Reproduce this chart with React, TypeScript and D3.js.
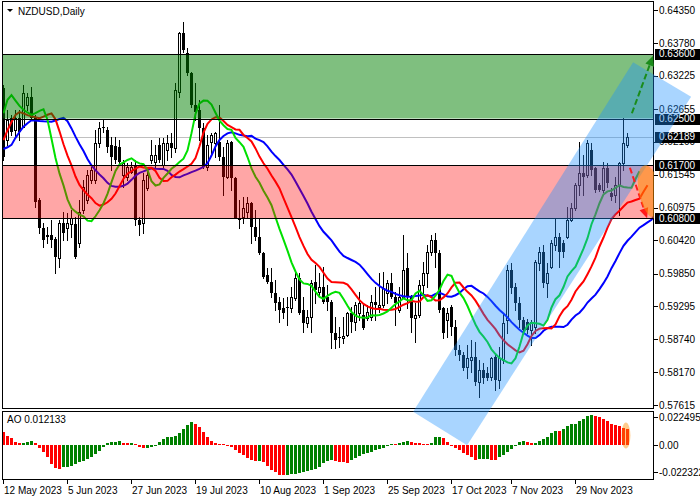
import React from "react";
import * as d3 from "d3";

// ---------- data ----------
const openPrices = [0.6302,0.6213,0.6251,0.6230,0.6251,0.6236,0.6273,0.6287,0.6251,0.6111,
0.6063,0.6051,0.6051,0.6044,0.6012,0.6072,0.6063,0.6070,0.6070,0.6038,
0.6094,0.6111,0.6145,0.6145,0.6208,0.6234,0.6230,0.6205,0.6203,0.6201,
0.6154,0.6150,0.6159,0.6171,0.6077,0.6072,0.6132,0.6179,0.6176,0.6205,
0.6171,0.6196,0.6208,0.6200,0.6295,0.6396,0.6362,0.6328,0.6273,0.6265,
0.6234,0.6167,0.6210,0.6208,0.6210,0.6184,0.6150,0.6210,0.6149,0.6080,
0.6082,0.6091,0.6106,0.6065,0.6048,0.6021,0.5983,0.5971,0.5953,0.5937,
0.5927,0.5927,0.5927,0.5944,0.5978,0.5924,0.5901,0.5912,0.5971,0.5954,
0.5963,0.5946,0.5937,0.5884,0.5877,0.5876,0.5881,0.5918,0.5903,0.5918,
0.5915,0.5910,0.5912,0.5937,0.5929,0.5932,0.5953,0.5970,0.5946,0.5924,
0.5946,0.5995,0.5946,0.5910,0.5915,0.5966,0.5987,0.6022,0.6043,0.6021,
0.5927,0.5906,0.5929,0.5894,0.5855,0.5847,0.5826,0.5838,0.5843,0.5801,
0.5821,0.5816,0.5809,0.5843,0.5804,0.5838,0.5906,0.5992,0.5963,0.5935,
0.5906,0.5903,0.5889,0.5894,0.6004,0.6022,0.5970,0.5997,0.6034,0.6048,
0.6038,0.6048,0.6077,0.6097,0.6137,0.6157,0.6154,0.6196,0.6166,0.6137,
0.6128,0.6166,0.6123,0.6120,0.6137,0.6174,0.6205];

const highPrices = [0.6307,0.6265,0.6256,0.6265,0.6265,0.6307,0.6293,0.6304,0.6256,0.6115,
0.6072,0.6065,0.6077,0.6048,0.6077,0.6091,0.6089,0.6094,0.6082,0.6111,
0.6145,0.6162,0.6167,0.6230,0.6244,0.6247,0.6236,0.6218,0.6218,0.6213,
0.6179,0.6174,0.6176,0.6179,0.6082,0.6157,0.6162,0.6213,0.6205,0.6216,
0.6216,0.6222,0.6225,0.6311,0.6398,0.6415,0.6370,0.6330,0.6311,0.6282,
0.6242,0.6222,0.6225,0.6227,0.6273,0.6201,0.6213,0.6212,0.6150,0.6111,
0.6116,0.6116,0.6108,0.6094,0.6080,0.6022,0.5995,0.5995,0.5975,0.5946,
0.5944,0.5946,0.5963,0.5987,0.5987,0.5946,0.5924,0.5975,0.6000,0.5987,
0.5997,0.5966,0.5941,0.5912,0.5894,0.5912,0.5920,0.5929,0.5937,0.5954,
0.5932,0.5932,0.5949,0.5963,0.5987,0.5988,0.5975,0.5987,0.5954,0.5963,
0.6051,0.6021,0.5949,0.5935,0.5975,0.6005,0.6034,0.6051,0.6055,0.6026,
0.5929,0.5927,0.5932,0.5906,0.5864,0.5852,0.5864,0.5872,0.5869,0.5838,
0.5833,0.5826,0.5843,0.5850,0.5860,0.5918,0.6000,0.6004,0.5970,0.5946,
0.5912,0.5908,0.5906,0.6009,0.6031,0.6034,0.6004,0.6043,0.6080,0.6055,
0.6043,0.6099,0.6106,0.6140,0.6210,0.6188,0.6213,0.6208,0.6167,0.6140,
0.6176,0.6174,0.6132,0.6150,0.6176,0.6251,0.6225];

const lowPrices = [0.6179,0.6205,0.6222,0.6218,0.6213,0.6236,0.6265,0.6247,0.6099,0.6055,
0.6031,0.6038,0.6031,0.5987,0.5997,0.6043,0.6043,0.6048,0.6012,0.6031,
0.6089,0.6106,0.6140,0.6140,0.6201,0.6227,0.6193,0.6162,0.6174,0.6174,
0.6133,0.6145,0.6157,0.6068,0.6051,0.6055,0.6128,0.6174,0.6167,0.6176,
0.6167,0.6179,0.6184,0.6193,0.6287,0.6363,0.6324,0.6270,0.6247,0.6213,
0.6166,0.6162,0.6191,0.6184,0.6179,0.6120,0.6149,0.6128,0.6080,0.6063,
0.6072,0.6082,0.6038,0.6043,0.6019,0.5978,0.5970,0.5946,0.5924,0.5903,
0.5910,0.5898,0.5920,0.5941,0.5916,0.5886,0.5894,0.5886,0.5935,0.5949,
0.5935,0.5924,0.5859,0.5859,0.5860,0.5867,0.5879,0.5886,0.5889,0.5906,
0.5891,0.5906,0.5906,0.5906,0.5920,0.5929,0.5935,0.5944,0.5898,0.5920,
0.5944,0.5927,0.5886,0.5869,0.5912,0.5953,0.5963,0.6017,0.5997,0.5920,
0.5876,0.5877,0.5881,0.5847,0.5838,0.5821,0.5808,0.5818,0.5796,0.5775,
0.5799,0.5804,0.5804,0.5787,0.5791,0.5833,0.5884,0.5953,0.5924,0.5894,
0.5884,0.5884,0.5864,0.5884,0.5992,0.5963,0.5946,0.5995,0.6026,0.5997,
0.6014,0.6046,0.6075,0.6094,0.6120,0.6120,0.6150,0.6154,0.6125,0.6126,
0.6125,0.6133,0.6111,0.6108,0.6085,0.6162,0.6201];

const closePrices = [0.6184,0.6247,0.6227,0.6251,0.6227,0.6293,0.6287,0.6251,0.6108,0.6063,
0.6043,0.6048,0.6043,0.6014,0.6072,0.6055,0.6072,0.6080,0.6014,0.6091,
0.6133,0.6154,0.6162,0.6208,0.6234,0.6236,0.6201,0.6184,0.6179,0.6176,
0.6174,0.6167,0.6167,0.6077,0.6068,0.6145,0.6154,0.6188,0.6188,0.6179,
0.6208,0.6208,0.6200,0.6299,0.6396,0.6367,0.6328,0.6273,0.6261,0.6234,
0.6167,0.6205,0.6222,0.6225,0.6184,0.6150,0.6208,0.6149,0.6080,0.6077,
0.6097,0.6106,0.6065,0.6048,0.6021,0.5980,0.5971,0.5953,0.5935,0.5924,
0.5918,0.5929,0.5946,0.5978,0.5918,0.5901,0.5912,0.5970,0.5958,0.5963,
0.5937,0.5937,0.5884,0.5872,0.5876,0.5879,0.5918,0.5903,0.5932,0.5935,
0.5893,0.5920,0.5937,0.5932,0.5932,0.5961,0.5970,0.5946,0.5935,0.5946,
0.5992,0.5946,0.5910,0.5915,0.5966,0.5987,0.6022,0.6043,0.6021,0.5924,
0.5884,0.5918,0.5894,0.5855,0.5847,0.5825,0.5842,0.5843,0.5801,0.5821,
0.5808,0.5808,0.5842,0.5804,0.5842,0.5901,0.5992,0.5961,0.5935,0.5906,
0.5889,0.5889,0.5903,0.6005,0.6022,0.5970,0.5987,0.6038,0.6048,0.6022,
0.6022,0.6077,0.6097,0.6137,0.6157,0.6150,0.6208,0.6162,0.6128,0.6128,
0.6166,0.6140,0.6116,0.6137,0.6174,0.6208,0.6219];

const aoValues = [0.00987,0.00690,0.00542,0.00245,0.00126,0.00141,0.00245,0.00319,0.00126,-0.00245,
-0.00542,-0.00913,-0.01432,-0.01684,-0.01781,-0.01655,-0.01610,-0.01536,-0.01410,-0.01284,
-0.01165,-0.01061,-0.00913,-0.00668,-0.00423,-0.00126,0.00171,0.00245,0.00252,0.00275,
0.00171,0.00126,0.00171,0.00111,-0.00126,-0.00245,-0.00223,-0.00148,-0.00052,0.00200,
0.00445,0.00594,0.00616,0.00668,0.00942,0.01239,0.01484,0.01729,0.01610,0.01358,
0.00987,0.00616,0.00319,0.00171,0.00074,0.00052,0.00022,-0.00126,-0.00371,-0.00594,
-0.00742,-0.00987,-0.01113,-0.01187,-0.01165,-0.01261,-0.01558,-0.01855,-0.02026,-0.02204,
-0.022322,-0.02220,-0.02190,-0.02152,-0.02078,-0.02003,-0.01929,-0.01855,-0.01781,-0.01632,
-0.01336,-0.01187,-0.01113,-0.01187,-0.01261,-0.01284,-0.01306,-0.01113,-0.00987,-0.00816,
-0.00690,-0.00616,-0.00497,-0.00371,-0.00319,-0.00245,-0.00052,0.00089,0.00074,0.00171,
0.00245,0.00297,0.00200,0.00171,0.00156,0.00074,0.00052,0.00171,0.00571,0.00616,
0.00497,0.00245,-0.00020,-0.00245,-0.00371,-0.00571,-0.00742,-0.00868,-0.01083,-0.01061,
-0.01046,-0.01039,-0.01076,-0.01090,-0.00913,-0.00742,-0.00542,-0.00297,0.00022,0.00245,
0.00319,0.00245,0.00126,0.00134,0.00319,0.00445,0.00616,0.00913,0.01061,0.01054,
0.01239,0.01410,0.01558,0.01610,0.01803,0.01981,0.02174,0.022495,0.02211,0.02100,
0.01981,0.01803,0.01610,0.01484,0.01432,0.01313,0.012133];

// Alligator values already plotted before the first visible source bar
const lipsHistory = [0.6259, 0.6282, 0.6290];
const teethHistory = [0.6213, 0.6230, 0.6244, 0.6256, 0.6261];
const jawHistory = [0.6198, 0.6201, 0.6205, 0.6217, 0.6227, 0.6236, 0.6242, 0.6247];

const priceTicks = [0.6435, 0.6378, 0.63225, 0.62655, 0.621, 0.61545, 0.60975, 0.6042, 0.5985, 0.59295, 0.5874, 0.5817, 0.57615];
const levelPrices = [0.636, 0.625, 0.617, 0.608];
const greenZone = [0.625, 0.636];
const redZone = [0.608, 0.617];
const currentPrice = 0.62189;
const aoTicks = [0.022495, 0, -0.022322];
const dateTickLabels = ["12 May 2023", "5 Jun 2023", "27 Jun 2023", "19 Jul 2023", "10 Aug 2023", "1 Sep 2023", "25 Sep 2023", "17 Oct 2023", "7 Nov 2023", "29 Nov 2023"];
const firstDate = new Date(2023, 4, 12);

// drawing objects in (bar index, price) coordinates
const channelCorners = [[102.4, 0.5750], [115.9, 0.5693], [171.9, 0.6287], [157.4, 0.6346]];
const upArrow = [[157.1, 0.6259], [162.4, 0.6357]];
const downArrow = [[156.6, 0.6166], [160.9, 0.6080]];
const orangeMark = [161.6, 0.6125];
const aoMark = [155.6, 0.0071];

// ---------- helpers ----------
function alligator(median: number[], period: number, history: number[]) {
  const out: { j: number; v: number }[] = history.map((v, j) => ({ j, v }));
  let s = history[history.length - 1];
  median.forEach((m, k) => {
    s = (s * (period - 1) + m) / period;
    out.push({ j: k + history.length, v: s });
  });
  return out;
}

const FONT = "'Liberation Sans', Arial, sans-serif";

export default function App() {
  const n = openPrices.length;
  const x = d3.scaleLinear().domain([-0.375, 162.625]).range([2, 654]);
  const y = d3.scaleLinear().domain([0.57615, 0.6435]).range([405, 10]);
  const yAO = d3.scaleLinear().domain([-0.022322, 0.022495]).range([475, 415]);

  const dates: Date[] = [];
  let d = new Date(firstDate);
  while (dates.length < n) {
    const wd = d.getDay();
    if (wd !== 0 && wd !== 6) dates.push(new Date(d));
    d = d3.timeDay.offset(d, 1);
  }
  const fmt = d3.timeFormat("%-d %b %Y");
  const dateTicks = dateTickLabels.map((label) => ({ label, i: dates.findIndex((dt) => fmt(dt) === label) }));

  const median = highPrices.map((h, i) => (h + lowPrices[i]) / 2);
  const lips = alligator(median, 5, lipsHistory);
  const teeth = alligator(median, 8, teethHistory);
  const jaw = alligator(median, 13, jawHistory);
  const line = d3.line<{ j: number; v: number }>().x((p) => x(p.j)).y((p) => y(p.v));

  const col = (i: number) => Math.floor(x(i)) - 1;

  const candles = d3.range(n).map((i) => {
    const o = openPrices[i], c = closePrices[i];
    const left = col(i);
    const top = Math.round(y(Math.max(o, c)));
    const bot = Math.round(y(Math.min(o, c)));
    const bull = c >= o;
    return (
      <g key={i}>
        <line x1={left + 1.5} x2={left + 1.5} y1={Math.round(y(highPrices[i]))} y2={Math.round(y(lowPrices[i])) + 1} stroke="#000" strokeWidth={1} />
        {bull ? (
          bot - top >= 2 ? (
            <rect x={left + 0.5} y={top + 0.5} width={2} height={bot - top} fill="#fff" stroke="#000" strokeWidth={1} />
          ) : (
            <rect x={left} y={top} width={3} height={1} fill="#000" />
          )
        ) : (
          <rect x={left} y={top} width={3} height={Math.max(bot - top, 1)} fill="#000" />
        )}
      </g>
    );
  });

  const aoBars = aoValues.map((v, i) => {
    const up = i > 0 && v > aoValues[i - 1];
    const y0 = Math.round(yAO(0));
    const y1 = Math.round(yAO(v));
    return <rect key={i} x={col(i)} y={Math.min(y0, y1)} width={3} height={Math.max(Math.abs(y1 - y0), 1)} fill={up ? "#008000" : "#ff0000"} />;
  });

  const channelPts = channelCorners.map(([i, p]) => [x(i), y(p)] as [number, number]);

  const arrow = (pts: number[][], color: string, key: string) => {
    const [x1, y1] = [x(pts[0][0]), y(pts[0][1])];
    const [x2, y2] = [x(pts[1][0]), y(pts[1][1])];
    const ang = Math.atan2(y2 - y1, x2 - x1);
    const L = 10, Wd = 4.5;
    const bx = x2 - L * Math.cos(ang), by = y2 - L * Math.sin(ang);
    const px = -Math.sin(ang) * Wd, py = Math.cos(ang) * Wd;
    return (
      <g key={key}>
        <line x1={x1} y1={y1} x2={bx} y2={by} stroke={color} strokeWidth={2} strokeDasharray="6,3" />
        <polygon points={`${x2},${y2} ${bx + px},${by + py} ${bx - px},${by - py}`} fill={color} />
      </g>
    );
  };

  const highlightLabels = [levelPrices[0], levelPrices[1], currentPrice, levelPrices[2], levelPrices[3]];

  return (
    <svg width={700} height={500} style={{ display: "block", position: "absolute", left: 0, top: 0 }} fontFamily={FONT}>
      <defs>
        <clipPath id="mainClip"><rect x={2} y={1} width={652} height={407} /></clipPath>
        <clipPath id="aoClip"><rect x={2} y={411} width={652} height={68} /></clipPath>
      </defs>
      <rect x={0} y={0} width={700} height={500} fill="#fff" />

      {/* main panel */}
      <g clipPath="url(#mainClip)">
        <line x1={2} x2={654} y1={Math.round(y(currentPrice)) + 0.5} y2={Math.round(y(currentPrice)) + 0.5} stroke="#c0c0c0" strokeWidth={1} />
        {candles}
        <path d={line(jaw) || ""} fill="none" stroke="#0000ff" strokeWidth={2} />
        <path d={line(teeth) || ""} fill="none" stroke="#ff0000" strokeWidth={2} />
        <path d={line(lips) || ""} fill="none" stroke="#00e000" strokeWidth={2} />
        <rect x={2} y={y(greenZone[1])} width={652} height={y(greenZone[0]) - y(greenZone[1])} fill="#008000" fillOpacity={0.5} />
        <rect x={2} y={y(redZone[1])} width={652} height={y(redZone[0]) - y(redZone[1])} fill="#ff0000" fillOpacity={0.35} />
        {levelPrices.map((p) => (
          <line key={p} x1={2} x2={654} y1={Math.round(y(p)) + 0.5} y2={Math.round(y(p)) + 0.5} stroke="#000" strokeWidth={1} />
        ))}
      </g>

      {/* AO panel */}
      <g clipPath="url(#aoClip)">{aoBars}</g>

      {/* frames */}
      <rect x={2.5} y={1.5} width={651} height={407} fill="none" stroke="#000" strokeWidth={1} />
      <rect x={2.5} y={411.5} width={651} height={68} fill="none" stroke="#000" strokeWidth={1} />

      {/* title */}
      <polygon points="7,9 13,9 10,12" fill="#000" />
      <text x={18} y={14.5} fontSize={10} fill="#000">NZDUSD,Daily</text>
      <text x={7} y={423} fontSize={10} fill="#000">{`AO ${aoValues[n - 1].toFixed(6)}`}</text>

      {/* price axis */}
      {priceTicks.map((p) => (
        <g key={p}>
          <line x1={654} x2={658} y1={Math.round(y(p)) + 0.5} y2={Math.round(y(p)) + 0.5} stroke="#000" />
          <text x={659} y={y(p)} dy="0.35em" fontSize={10} fill="#000">{p.toFixed(5)}</text>
        </g>
      ))}
      {aoTicks.map((v, k) => {
        const yy = k === 0 ? yAO(v) + 2 : k === 2 ? yAO(v) - 3 : yAO(v);
        return (
          <g key={v}>
            <line x1={654} x2={658} y1={Math.round(yy) + 0.5} y2={Math.round(yy) + 0.5} stroke="#000" />
            <text x={659} y={yy} dy="0.35em" fontSize={10} fill="#000">{v === 0 ? "0.00" : v.toFixed(6)}</text>
          </g>
        );
      })}

      {/* time axis */}
      {dateTicks.map((t) => (
        <g key={t.label}>
          <line x1={Math.floor(x(t.i)) + 0.5} x2={Math.floor(x(t.i)) + 0.5} y1={479} y2={484} stroke="#000" />
          <text x={Math.floor(x(t.i)) + 1} y={494} fontSize={10} fill="#000">{t.label}</text>
        </g>
      ))}

      {/* highlighted price labels */}
      {highlightLabels.map((p) => (
        <g key={"h" + p}>
          <rect x={655} y={Math.round(y(p)) - 5} width={45} height={11} fill="#000" />
          <text x={659} y={y(p)} dy="0.35em" fontSize={10} fill="#fff">{p.toFixed(5)}</text>
        </g>
      ))}

      {/* channel */}
      <polygon points={channelPts.map((p) => p.join(",")).join(" ")} fill="#1e90ff" fillOpacity={0.38} />

      {/* arrows and marks */}
      {arrow(upArrow, "#1a8c1a", "up")}
      {arrow(downArrow, "#ff1a1a", "down")}
      <g clipPath="url(#mainClip)">
        <ellipse cx={x(orangeMark[0])} cy={y(orangeMark[1])} rx={11} ry={27} transform={`rotate(-12 ${x(orangeMark[0])} ${y(orangeMark[1])})`} fill="#ff8c00" fillOpacity={0.55} />
      </g>
      <ellipse cx={x(aoMark[0])} cy={yAO(aoMark[1])} rx={4.5} ry={13} fill="#ff8c00" fillOpacity={0.45} />
    </svg>
  );
}
